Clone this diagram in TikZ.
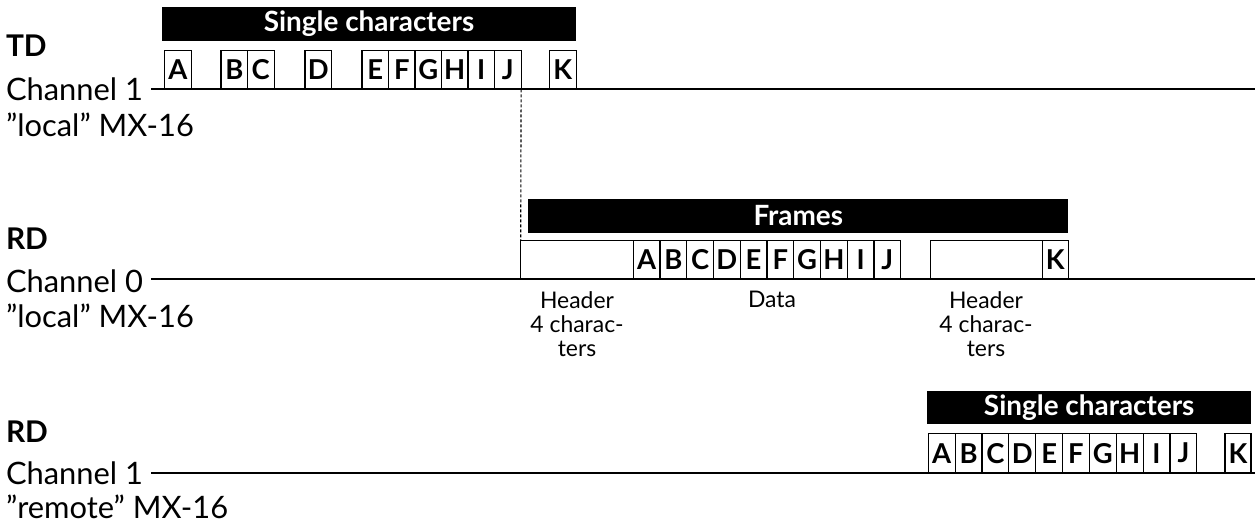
\documentclass[tikz,border=0pt]{standalone}
\usepackage{fontspec}
\setmainfont{Lato}
\begin{document}
\begin{tikzpicture}[x=1bp,y=-1bp,
  every node/.style={inner sep=0pt, outer sep=0pt},
  lbl/.style={anchor=base west, font=\fontsize{31}{36}\selectfont},
  hdr/.style={anchor=base west, font=\fontsize{30}{34}\selectfont\bfseries},
  ch/.style={draw, line width=1.2bp, minimum width=26.6bp, minimum height=39bp, anchor=south west, font=\fontsize{27.5}{30}\selectfont\bfseries},
  bar/.style={fill=black, text=white, anchor=north west, minimum height=33.4bp, font=\fontsize{28}{30}\selectfont\bfseries},
  tline/.style={line width=1.6bp},
  sub/.style={align=center, anchor=base, font=\fontsize{23}{24.5}\selectfont},
  guide/.style={line width=1.1bp, dash pattern=on 3bp off 2bp}
]
\useasboundingbox (0,0) rectangle (1255,526);

% ---------- Row 1: TD channel 1 local ----------
\node[hdr] (td) at (6,57) {TD};
\node[lbl] (c1) at (6,101) {Channel 1};
\node[lbl] (l1) at (6,137) {”local” MX-16};
\coordinate (s1) at (151,89.3);
\coordinate (e1) at (1255,89.3);
\draw[tline] (s1) -- (e1);
\node[bar, minimum width=414bp] (sc1) at (162,7.3) {Single characters};
\foreach \n/\x in {A/164.5,B/221,C/247.5,D/305,E/362,F/388.5,G/415,H/441.5,I/468,J/494.5,K/549.5}
  \node[ch] (ra\n) at (\x,89.3) {\n};

% ---------- Row 2: RD channel 0 local ----------
\node[hdr] (rd2) at (6,250) {RD};
\node[lbl] (c0) at (6,293) {Channel 0};
\node[lbl] (l2) at (6,328) {”local” MX-16};
\coordinate (s2) at (151,279.3);
\coordinate (e2) at (1255,279.3);
\draw[tline] (s2) -- (e2);
\node[bar, minimum width=540bp] (fr) at (528.3,199.3) {Frames};
\node[ch, minimum width=112.6bp] (h1) at (520.7,279.3) {};
\foreach \n [count=\i from 0] in {A,B,C,D,E,F,G,H,I,J}
  \node[ch] (rb\n) at (633.3+26.75*\i,279.3) {\n};
\node[ch, minimum width=112bp] (h2) at (930.3,279.3) {};
\node[ch, minimum width=26bp] (rbK) at (1042.3,279.3) {K};
\node[sub] (hl1) at (577,357) {Header\\4 charac-\\ters};
\node[sub] (dl) at (772,308) {Data};
\node[sub] (hl2) at (986,357) {Header\\4 charac-\\ters};
\draw[guide] (raJ.south east) -- (h1.north west);

% ---------- Row 3: RD channel 1 remote ----------
\node[hdr] (rd3) at (6,442) {RD};
\node[lbl] (c3) at (6,484) {Channel 1};
\node[lbl] (l3) at (6,518) {”remote” MX-16};
\coordinate (s3) at (151,472.7);
\coordinate (e3) at (1255,472.7);
\draw[tline] (s3) -- (e3);
\node[bar, minimum width=323.7bp] (sc3) at (927.3,391) {Single characters};
\foreach \n [count=\i from 0] in {A,B,C,D,E,F,G,H,I,J}
  \node[ch, minimum width=26.85bp] (rc\n) at (928.3+26.85*\i,472.7) {\n};
\node[ch, minimum width=26bp] (rcK) at (1225,472.7) {K};
\end{tikzpicture}
\end{document}
